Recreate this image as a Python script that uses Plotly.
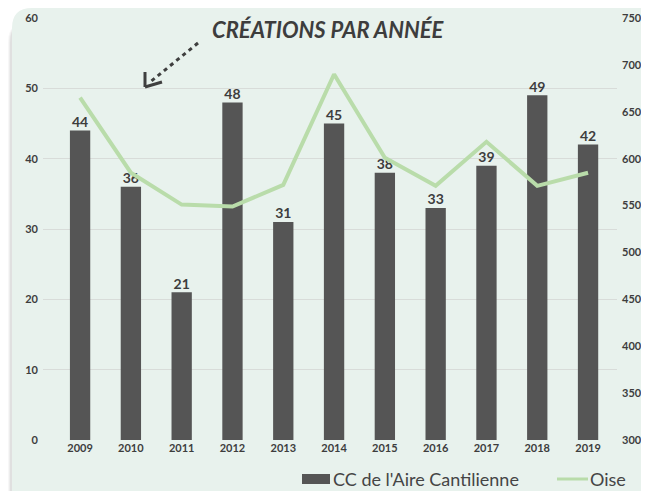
import plotly.graph_objects as go

years = ["2009", "2010", "2011", "2012", "2013", "2014", "2015", "2016", "2017", "2018", "2019"]
cc_values = [44, 36, 21, 48, 31, 45, 38, 33, 39, 49, 42]
oise_values = [665, 585, 551, 549, 572, 690, 601, 571, 618, 571, 585]
title_text = "CRÉATIONS PAR ANNÉE"
bar_name = "CC de l'Aire Cantilienne"
line_name = "Oise"

W, H = 649, 491
OFF = 8  # page body margin
ML, MR, MT, MB = 43 - OFF, 649 - (617 - OFF), 18 - OFF, 491 - (440 - OFF)
PW, PH = W - ML - MR, H - MT - MB

def px(x):  # page pixel -> paper
    return (x - OFF - ML) / PW

def py(y):
    return (H - MB - (y - OFF)) / PH

BAR_C = "#555555"
LINE_C = "#b9dcaa"
TXT_C = "#3d3d3d"

fig = go.Figure()
fig.add_trace(go.Bar(
    x=years, y=cc_values, name=bar_name,
    marker=dict(color=BAR_C, line=dict(width=0)),
    yaxis="y", showlegend=False,
))
fig.add_trace(go.Scatter(
    x=years, y=oise_values, name=line_name, mode="lines",
    line=dict(color=LINE_C, width=4), yaxis="y2", showlegend=False,
))
# data labels of the bars, drawn above the line
fig.add_trace(go.Scatter(
    x=years, y=cc_values, mode="text", text=[str(v) for v in cc_values],
    textposition="top center", yaxis="y", showlegend=False, hoverinfo="skip",
    textfont=dict(family="Lato", size=14, color=TXT_C, weight="bold"),
    cliponaxis=False,
))

def panel_path(offx=0, offy=0, r=20):
    x0, x1 = px(12 + offx), px(700)
    yt, yb = py(8 + offy), py(540)
    dx, dy = r / PW, r / PH
    return (f"M {x0},{yb} L {x0},{yt - dy} Q {x0},{yt} {x0 + dx},{yt} "
            f"L {x1},{yt} L {x1},{yb} Z")

shapes = []
for off, op in [(-4, 0.03), (-3, 0.04), (-2, 0.05)]:
    shapes.append(dict(type="path", xref="paper", yref="paper", path=panel_path(off, 14),
                       fillcolor=f"rgba(0,0,0,{op})", line=dict(width=0), layer="below"))
shapes.append(dict(type="path", xref="paper", yref="paper", path=panel_path(),
                   fillcolor="#e8f2ed", line=dict(width=0), layer="below"))

ac = "#3f3f3f"
shapes.append(dict(type="line", xref="paper", yref="paper",
                   x0=px(198), y0=py(43), x1=px(149), y1=py(83),
                   line=dict(color=ac, width=3, dash="4px,4px")))
shapes.append(dict(type="line", xref="paper", yref="paper",
                   x0=px(145), y0=py(87), x1=px(145), y1=py(72),
                   line=dict(color=ac, width=3)))
shapes.append(dict(type="line", xref="paper", yref="paper",
                   x0=px(145), y0=py(87), x1=px(162), y1=py(82),
                   line=dict(color=ac, width=3)))

# custom legend
LEG_Y = 479
shapes.append(dict(type="rect", xref="paper", yref="paper",
                   x0=px(302), x1=px(330), y0=py(LEG_Y + 5), y1=py(LEG_Y - 5),
                   fillcolor=BAR_C, line=dict(width=0)))
shapes.append(dict(type="line", xref="paper", yref="paper",
                   x0=px(557), x1=px(588), y0=py(LEG_Y), y1=py(LEG_Y),
                   line=dict(color=LINE_C, width=3)))

annotations = [
    dict(text=f"<i><b>{title_text}</b></i>", xref="paper", yref="paper",
         x=px(328), y=py(30), xanchor="center", yanchor="middle", showarrow=False,
         font=dict(family="Lato", size=22, color=TXT_C)),
    dict(text=bar_name, xref="paper", yref="paper", x=px(331), y=py(LEG_Y),
         xanchor="left", yanchor="middle", showarrow=False,
         font=dict(family="Lato", size=18, color="#454545")),
    dict(text=line_name, xref="paper", yref="paper", x=px(588), y=py(LEG_Y),
         xanchor="left", yanchor="middle", showarrow=False,
         font=dict(family="Lato", size=18, color="#454545")),
]

tf = dict(family="Lato", size=11, color=TXT_C, weight="bold")
fig.update_layout(
    width=W, height=H,
    margin=dict(l=ML, r=MR, t=MT, b=MB, autoexpand=False),
    paper_bgcolor="white", plot_bgcolor="rgba(0,0,0,0)",
    bargap=0.6,
    showlegend=False,
    shapes=shapes,
    annotations=annotations,
    font=dict(family="Lato", color=TXT_C),
    xaxis=dict(type="category", range=[-0.73, 10.57], showgrid=False, zeroline=False,
               showline=False, ticks="", tickfont=tf),
    yaxis=dict(range=[0, 60], dtick=10, showgrid=True, gridcolor="#d8dcd9", gridwidth=1,
               zeroline=False, showline=False, ticks="", tickfont=tf, ticklabelstandoff=4),
    yaxis2=dict(range=[300, 750], dtick=50, overlaying="y", side="right", showgrid=False,
                zeroline=False, showline=False, ticks="", tickfont=tf, ticklabelstandoff=4),
)

fig.write_html("out.html")
